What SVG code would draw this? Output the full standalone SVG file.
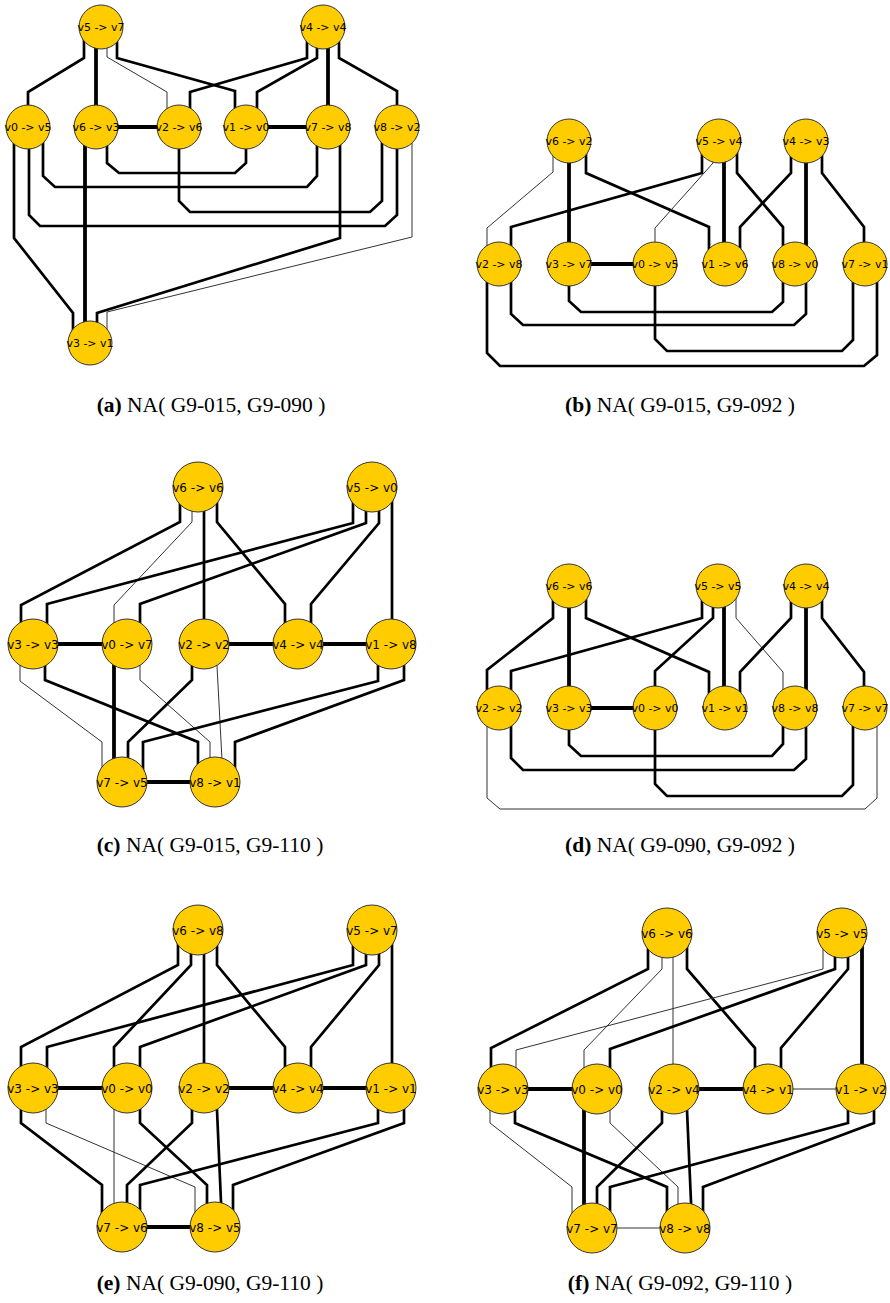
<svg xmlns="http://www.w3.org/2000/svg" width="890" height="1303" viewBox="0 0 890 1303">
<style>
.e{fill:none;stroke:#000;stroke-linejoin:miter}
.k{stroke-width:3.8}
.m{stroke-width:2.7}
.t{stroke-width:1;stroke:#333}
.n circle{fill:#FFCC00;stroke:#333;stroke-width:1}
.n text{font-family:"DejaVu Sans",sans-serif;font-size:11px;text-anchor:middle;fill:#000}
.L text{font-size:12px}
.cap{font-family:"Liberation Serif",serif;font-size:21.5px;text-anchor:middle;fill:#000}
.cap tspan.b{font-weight:bold}
</style>
<rect width="890" height="1303" fill="#fff"/>
<g id="connectors">
<!-- (a) -->
<path class="e m" d="M84,27 V58 L28,92 V127"/>
<path class="e k" d="M96,27 V127"/>
<path class="e t" d="M107,27 V57 L167,92 V127"/>
<path class="e m" d="M117,27 V58 L235,91 V127"/>
<path class="e m" d="M307,27 V58 L190,92 V127"/>
<path class="e m" d="M317,27 V58 L257,92 V127"/>
<path class="e k" d="M328,27 V127"/>
<path class="e m" d="M339,27 V58 L397,91 V127"/>
<path class="e k" d="M96,127 H179"/>
<path class="e k" d="M246,127 H328"/>
<path class="e m" d="M14,127 V238 L73,313 V343"/>
<path class="e m" d="M29,127 V215 L40,226 H385 L397,215 V127"/>
<path class="e m" d="M43,127 V176 L55,187 H307 L317,176 V127"/>
<path class="e k" d="M85,127 V343"/>
<path class="e m" d="M107,127 V163 L119,173 H235 L246,163 V127"/>
<path class="e m" d="M179,127 V201 L190,212 H370 L382,201 V127"/>
<path class="e m" d="M340,127 V238 L97,313 V343"/>
<path class="e t" d="M412,127 V237 L107,312 V343"/>
<!-- (b) -->
<path class="e t" d="M553,141 V172 L487,228 V264"/>
<path class="e k" d="M569,141 V264"/>
<path class="e m" d="M586,141 V173 L709,227 V264"/>
<path class="e m" d="M702,141 V173 L511,227 V264"/>
<path class="e t" d="M713,141 V163 L655,228 V264"/>
<path class="e k" d="M724,141 V264"/>
<path class="e m" d="M737,141 V173 L783,227 V264"/>
<path class="e m" d="M791,141 V173 L740,227 V264"/>
<path class="e k" d="M806,141 V264"/>
<path class="e m" d="M822,141 V173 L864,227 V264"/>
<path class="e k" d="M569,264 H655"/>
<path class="e m" d="M487,264 V353 L500,366 H864 L877,355 V264"/>
<path class="e m" d="M511,264 V314 L523,325 H794 L806,314 V264"/>
<path class="e m" d="M569,264 V301 L581,312 H772 L783,302 V264"/>
<path class="e m" d="M655,264 V339 L667,351 H842 L853,340 V264"/>
<!-- (c) -->
<path class="e m" d="M180,487 V522 L21,605 V644"/>
<path class="e t" d="M192,487 V522 L114,605 V644"/>
<path class="e m" d="M204,487 V644"/>
<path class="e m" d="M217,487 V522 L285,604 V644"/>
<path class="e m" d="M353,487 V523 L47,604 V644"/>
<path class="e m" d="M366,487 V523 L140,604 V644"/>
<path class="e m" d="M379,487 V523 L311,604 V644"/>
<path class="e m" d="M392,487 V644"/>
<path class="e k" d="M33,644 H127"/>
<path class="e k" d="M204,644 H298"/>
<path class="e k" d="M298,644 H391"/>
<path class="e k" d="M122,782 H215"/>
<path class="e t" d="M20,644 V681 L102,742 V782"/>
<path class="e m" d="M45,644 V680 L198,742 V782"/>
<path class="e k" d="M114,644 V782"/>
<path class="e t" d="M140,644 V680 L210,742 V782"/>
<path class="e m" d="M192,644 V680 L128,742 V782"/>
<path class="e t" d="M217,644 V666 L222,760 V782"/>
<path class="e m" d="M378,644 V681 L143,742 V782"/>
<path class="e m" d="M404,644 V680 L235,742 V782"/>
<!-- (d) -->
<path class="e m" d="M553,586 V618 L487,670 V708"/>
<path class="e k" d="M569,586 V708"/>
<path class="e m" d="M586,586 V618 L709,672 V708"/>
<path class="e m" d="M702,586 V618 L511,671 V708"/>
<path class="e m" d="M713,586 V618 L655,671 V708"/>
<path class="e k" d="M724,586 V708"/>
<path class="e t" d="M736,586 V618 L783,672 V708"/>
<path class="e m" d="M791,586 V618 L740,672 V708"/>
<path class="e k" d="M806,586 V708"/>
<path class="e m" d="M822,586 V618 L864,672 V708"/>
<path class="e k" d="M569,708 H655"/>
<path class="e t" d="M487,708 V798 L500,809 H865 L877,798 V708"/>
<path class="e m" d="M511,708 V758 L523,770 H794 L806,759 V708"/>
<path class="e m" d="M569,708 V745 L581,756 H772 L783,744 V708"/>
<path class="e m" d="M655,708 V784 L667,796 H842 L853,785 V708"/>
<!-- (e) -->
<path class="e m" d="M178,930 V965 L21,1047 V1088"/>
<path class="e m" d="M191,930 V965 L114,1047 V1088"/>
<path class="e m" d="M204,930 V1088"/>
<path class="e m" d="M217,930 V965 L285,1047 V1088"/>
<path class="e m" d="M353,930 V965 L47,1047 V1088"/>
<path class="e m" d="M366,930 V965 L140,1047 V1088"/>
<path class="e m" d="M379,930 V965 L311,1047 V1088"/>
<path class="e m" d="M392,930 V1088"/>
<path class="e k" d="M33,1088 H127"/>
<path class="e k" d="M204,1088 H298"/>
<path class="e k" d="M298,1088 H391"/>
<path class="e k" d="M122,1227 H215"/>
<path class="e m" d="M21,1088 V1123 L102,1185 V1227"/>
<path class="e t" d="M46,1088 V1123 L195,1187 V1227"/>
<path class="e t" d="M114,1088 V1227"/>
<path class="e m" d="M140,1088 V1123 L207,1185 V1227"/>
<path class="e m" d="M192,1088 V1123 L127,1185 V1227"/>
<path class="e m" d="M217,1088 V1110 L221,1202 V1227"/>
<path class="e m" d="M378,1088 V1123 L140,1185 V1227"/>
<path class="e m" d="M404,1088 V1123 L233,1185 V1227"/>
<!-- (f) -->
<path class="e m" d="M648,933 V969 L491,1048 V1089"/>
<path class="e t" d="M662,933 V969 L584,1050 V1089"/>
<path class="e t" d="M673,933 V1089"/>
<path class="e m" d="M687,933 V969 L755,1048 V1089"/>
<path class="e t" d="M823,933 V969 L516,1050 V1089"/>
<path class="e m" d="M835,933 V969 L610,1049 V1089"/>
<path class="e m" d="M848,933 V969 L781,1048 V1089"/>
<path class="e k" d="M862,933 V1089"/>
<path class="e k" d="M503,1089 H597"/>
<path class="e k" d="M674,1089 H768"/>
<path class="e t" d="M768,1089 H861"/>
<path class="e t" d="M592,1228 H685"/>
<path class="e t" d="M490,1089 V1123 L572,1187 V1228"/>
<path class="e m" d="M515,1089 V1123 L667,1187 V1228"/>
<path class="e k" d="M584,1089 V1228"/>
<path class="e t" d="M610,1089 V1123 L678,1187 V1228"/>
<path class="e m" d="M662,1089 V1123 L597,1187 V1228"/>
<path class="e m" d="M687,1089 V1110 L691,1202 V1228"/>
<path class="e m" d="M848,1089 V1123 L610,1187 V1228"/>
<path class="e m" d="M874,1089 V1123 L703,1187 V1228"/>
</g>
<!-- (a) nodes -->
<g id="a-v5-v7" class="n"><circle cx="101" cy="27" r="22"/><text x="101" y="31">v5 -&gt; v7</text></g>
<g id="a-v4-v4" class="n"><circle cx="323" cy="27" r="22"/><text x="323" y="31">v4 -&gt; v4</text></g>
<g id="a-v0-v5" class="n"><circle cx="28" cy="127" r="22"/><text x="28" y="131">v0 -&gt; v5</text></g>
<g id="a-v6-v3" class="n"><circle cx="96" cy="127" r="22"/><text x="96" y="131">v6 -&gt; v3</text></g>
<g id="a-v2-v6" class="n"><circle cx="179" cy="127" r="22"/><text x="179" y="131">v2 -&gt; v6</text></g>
<g id="a-v1-v0" class="n"><circle cx="246" cy="127" r="22"/><text x="246" y="131">v1 -&gt; v0</text></g>
<g id="a-v7-v8" class="n"><circle cx="328" cy="127" r="22"/><text x="328" y="131">v7 -&gt; v8</text></g>
<g id="a-v8-v2" class="n"><circle cx="397" cy="127" r="22"/><text x="397" y="131">v8 -&gt; v2</text></g>
<g id="a-v3-v1" class="n"><circle cx="90" cy="343" r="22"/><text x="90" y="347">v3 -&gt; v1</text></g>
<!-- (b) nodes -->
<g id="b-v6-v2" class="n"><circle cx="569" cy="141" r="22"/><text x="569" y="145">v6 -&gt; v2</text></g>
<g id="b-v5-v4" class="n"><circle cx="719" cy="141" r="22"/><text x="719" y="145">v5 -&gt; v4</text></g>
<g id="b-v4-v3" class="n"><circle cx="806" cy="141" r="22"/><text x="806" y="145">v4 -&gt; v3</text></g>
<g id="b-v2-v8" class="n"><circle cx="499" cy="264" r="22"/><text x="499" y="268">v2 -&gt; v8</text></g>
<g id="b-v3-v7" class="n"><circle cx="569" cy="264" r="22"/><text x="569" y="268">v3 -&gt; v7</text></g>
<g id="b-v0-v5" class="n"><circle cx="655" cy="264" r="22"/><text x="655" y="268">v0 -&gt; v5</text></g>
<g id="b-v1-v6" class="n"><circle cx="725" cy="264" r="22"/><text x="725" y="268">v1 -&gt; v6</text></g>
<g id="b-v8-v0" class="n"><circle cx="795" cy="264" r="22"/><text x="795" y="268">v8 -&gt; v0</text></g>
<g id="b-v7-v1" class="n"><circle cx="865" cy="264" r="22"/><text x="865" y="268">v7 -&gt; v1</text></g>
<!-- (c) nodes -->
<g id="c-v6-v6" class="n L"><circle cx="198" cy="487" r="25"/><text x="198" y="491.5">v6 -&gt; v6</text></g>
<g id="c-v5-v0" class="n L"><circle cx="372" cy="487" r="25"/><text x="372" y="491.5">v5 -&gt; v0</text></g>
<g id="c-v3-v3" class="n L"><circle cx="33" cy="644" r="25"/><text x="33" y="648.5">v3 -&gt; v3</text></g>
<g id="c-v0-v7" class="n L"><circle cx="127" cy="644" r="25"/><text x="127" y="648.5">v0 -&gt; v7</text></g>
<g id="c-v2-v2" class="n L"><circle cx="204" cy="644" r="25"/><text x="204" y="648.5">v2 -&gt; v2</text></g>
<g id="c-v4-v4" class="n L"><circle cx="298" cy="644" r="25"/><text x="298" y="648.5">v4 -&gt; v4</text></g>
<g id="c-v1-v8" class="n L"><circle cx="391" cy="644" r="25"/><text x="391" y="648.5">v1 -&gt; v8</text></g>
<g id="c-v7-v5" class="n L"><circle cx="122" cy="782" r="25"/><text x="122" y="786.5">v7 -&gt; v5</text></g>
<g id="c-v8-v1" class="n L"><circle cx="215" cy="782" r="25"/><text x="215" y="786.5">v8 -&gt; v1</text></g>
<!-- (d) nodes -->
<g id="d-v6-v6" class="n"><circle cx="569" cy="586" r="22"/><text x="569" y="590">v6 -&gt; v6</text></g>
<g id="d-v5-v5" class="n"><circle cx="718" cy="586" r="22"/><text x="718" y="590">v5 -&gt; v5</text></g>
<g id="d-v4-v4" class="n"><circle cx="806" cy="586" r="22"/><text x="806" y="590">v4 -&gt; v4</text></g>
<g id="d-v2-v2" class="n"><circle cx="499" cy="708" r="22"/><text x="499" y="712">v2 -&gt; v2</text></g>
<g id="d-v3-v3" class="n"><circle cx="569" cy="708" r="22"/><text x="569" y="712">v3 -&gt; v3</text></g>
<g id="d-v0-v0" class="n"><circle cx="655" cy="708" r="22"/><text x="655" y="712">v0 -&gt; v0</text></g>
<g id="d-v1-v1" class="n"><circle cx="725" cy="708" r="22"/><text x="725" y="712">v1 -&gt; v1</text></g>
<g id="d-v8-v8" class="n"><circle cx="795" cy="708" r="22"/><text x="795" y="712">v8 -&gt; v8</text></g>
<g id="d-v7-v7" class="n"><circle cx="865" cy="708" r="22"/><text x="865" y="712">v7 -&gt; v7</text></g>
<!-- (e) nodes -->
<g id="e-v6-v8" class="n L"><circle cx="198" cy="930" r="25"/><text x="198" y="934.5">v6 -&gt; v8</text></g>
<g id="e-v5-v7" class="n L"><circle cx="372" cy="930" r="25"/><text x="372" y="934.5">v5 -&gt; v7</text></g>
<g id="e-v3-v3" class="n L"><circle cx="33" cy="1088" r="25"/><text x="33" y="1092.5">v3 -&gt; v3</text></g>
<g id="e-v0-v0" class="n L"><circle cx="127" cy="1088" r="25"/><text x="127" y="1092.5">v0 -&gt; v0</text></g>
<g id="e-v2-v2" class="n L"><circle cx="204" cy="1088" r="25"/><text x="204" y="1092.5">v2 -&gt; v2</text></g>
<g id="e-v4-v4" class="n L"><circle cx="298" cy="1088" r="25"/><text x="298" y="1092.5">v4 -&gt; v4</text></g>
<g id="e-v1-v1" class="n L"><circle cx="391" cy="1088" r="25"/><text x="391" y="1092.5">v1 -&gt; v1</text></g>
<g id="e-v7-v6" class="n L"><circle cx="122" cy="1227" r="25"/><text x="122" y="1231.5">v7 -&gt; v6</text></g>
<g id="e-v8-v5" class="n L"><circle cx="215" cy="1227" r="25"/><text x="215" y="1231.5">v8 -&gt; v5</text></g>
<!-- (f) nodes -->
<g id="f-v6-v6" class="n L"><circle cx="667" cy="933" r="25"/><text x="667" y="937.5">v6 -&gt; v6</text></g>
<g id="f-v5-v5" class="n L"><circle cx="842" cy="933" r="25"/><text x="842" y="937.5">v5 -&gt; v5</text></g>
<g id="f-v3-v3" class="n L"><circle cx="503" cy="1089" r="25"/><text x="503" y="1093.5">v3 -&gt; v3</text></g>
<g id="f-v0-v0" class="n L"><circle cx="597" cy="1089" r="25"/><text x="597" y="1093.5">v0 -&gt; v0</text></g>
<g id="f-v2-v4" class="n L"><circle cx="674" cy="1089" r="25"/><text x="674" y="1093.5">v2 -&gt; v4</text></g>
<g id="f-v4-v1" class="n L"><circle cx="768" cy="1089" r="25"/><text x="768" y="1093.5">v4 -&gt; v1</text></g>
<g id="f-v1-v2" class="n L"><circle cx="861" cy="1089" r="25"/><text x="861" y="1093.5">v1 -&gt; v2</text></g>
<g id="f-v7-v7" class="n L"><circle cx="592" cy="1228" r="25"/><text x="592" y="1232.5">v7 -&gt; v7</text></g>
<g id="f-v8-v8" class="n L"><circle cx="685" cy="1228" r="25"/><text x="685" y="1232.5">v8 -&gt; v8</text></g>
<!-- captions -->
<g id="captions">
<text class="cap" x="211" y="412"><tspan class="b">(a)</tspan> NA( G9-015, G9-090 )</text>
<text class="cap" x="680" y="412"><tspan class="b">(b)</tspan> NA( G9-015, G9-092 )</text>
<text class="cap" x="210" y="852"><tspan class="b">(c)</tspan> NA( G9-015, G9-110 )</text>
<text class="cap" x="680" y="852"><tspan class="b">(d)</tspan> NA( G9-090, G9-092 )</text>
<text class="cap" x="210" y="1290"><tspan class="b">(e)</tspan> NA( G9-090, G9-110 )</text>
<text class="cap" x="680" y="1290"><tspan class="b">(f)</tspan> NA( G9-092, G9-110 )</text>
</g>
</svg>
